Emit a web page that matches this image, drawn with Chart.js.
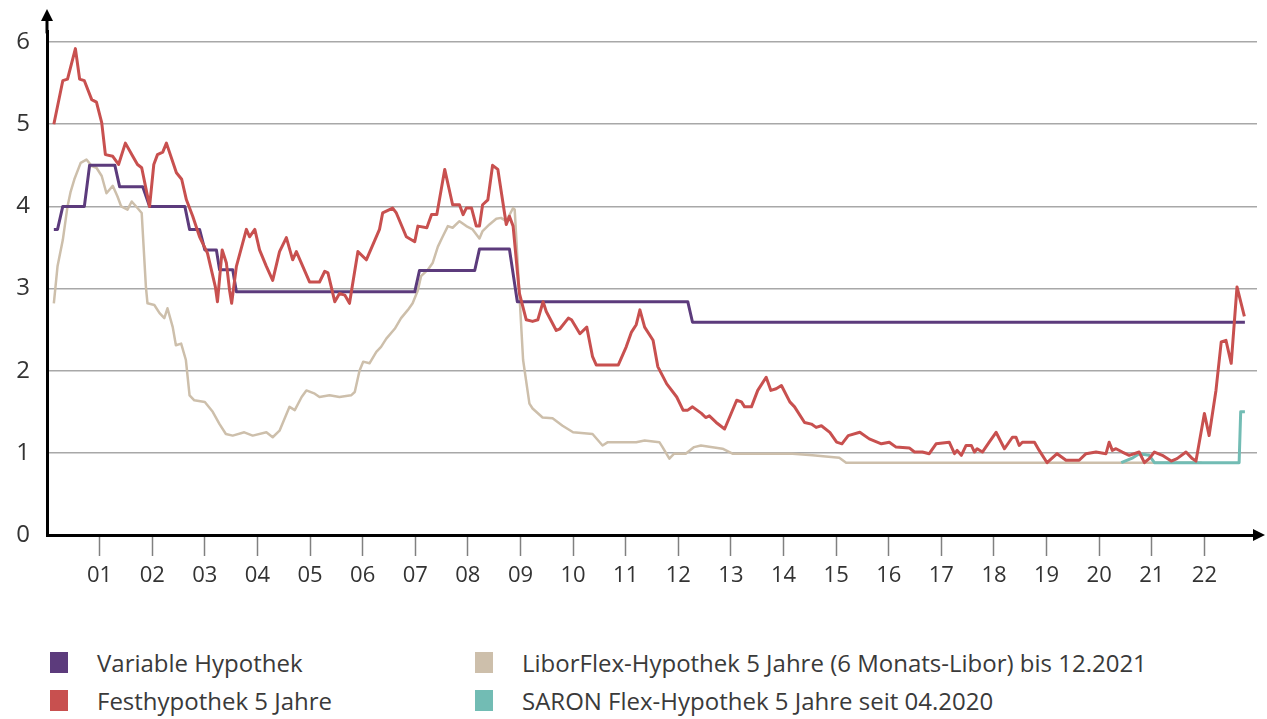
<!DOCTYPE html>
<html>
<head>
<meta charset="utf-8">
<script src="https://cdn.jsdelivr.net/npm/chart.js@4.4.0/dist/chart.umd.min.js"></script>
<style>
  body { margin: 0; background: #fff; overflow: hidden; font-family: "Open Sans", sans-serif; }
  #wrap { position: relative; width: 1267px; height: 719px; }
  #chart { position: absolute; left: 0; top: 0; }
  .lg-box { position: absolute; width: 18px; height: 21px; }
  .lg-text { position: absolute; font-size: 24px; line-height: 28px; color: #3a3a3a; white-space: nowrap; }
</style>
</head>
<body>
<div id="wrap">
  <canvas id="chart" width="1267" height="600"></canvas>
  <div id="legend"></div>
</div>
<script>
// x values are decimal years
const varDates = [2000.13, 2000.20, 2000.30, 2000.71, 2000.81, 2001.29, 2001.38, 2001.82, 2001.95,
  2002.62, 2002.71, 2002.90, 2003.00, 2003.22, 2003.28, 2003.53, 2003.60, 2006.99, 2007.08,
  2008.13, 2008.22, 2008.79, 2008.94, 2012.18, 2012.27, 2022.77];
const varValues = [3.72, 3.72, 4.0, 4.0, 4.5, 4.5, 4.24, 4.24, 4.0,
  4.0, 3.72, 3.72, 3.47, 3.47, 3.23, 3.23, 2.96, 2.96, 3.22,
  3.22, 3.48, 3.48, 2.84, 2.84, 2.59, 2.59];

const festDates = [2000.13, 2000.30, 2000.39, 2000.54, 2000.62, 2000.71, 2000.85, 2000.94, 2001.04, 2001.11,
  2001.25, 2001.36, 2001.49, 2001.63, 2001.72, 2001.80, 2001.95, 2002.03, 2002.10, 2002.20,
  2002.27, 2002.46, 2002.56, 2002.65, 2002.77, 2002.90, 2003.05, 2003.20, 2003.24, 2003.33,
  2003.41, 2003.47, 2003.51, 2003.60, 2003.79, 2003.85, 2003.95, 2004.04, 2004.17, 2004.29,
  2004.42, 2004.55, 2004.67, 2004.74, 2004.99, 2005.18, 2005.28, 2005.34, 2005.47, 2005.56,
  2005.66, 2005.75, 2005.91, 2006.07, 2006.32, 2006.38, 2006.57, 2006.64, 2006.83, 2006.99,
  2007.05, 2007.22, 2007.31, 2007.41, 2007.56, 2007.71, 2007.84, 2007.91, 2007.97, 2008.07,
  2008.16, 2008.22, 2008.28, 2008.38, 2008.47, 2008.57, 2008.73, 2008.79, 2008.86, 2008.98,
  2009.11, 2009.23, 2009.33, 2009.43, 2009.49, 2009.68, 2009.75, 2009.91, 2009.97, 2010.13,
  2010.26, 2010.37, 2010.44, 2010.86, 2011.01, 2011.11, 2011.20, 2011.27, 2011.36, 2011.52,
  2011.61, 2011.78, 2011.97, 2012.09, 2012.18, 2012.27, 2012.44, 2012.52, 2012.59, 2012.72,
  2012.88, 2013.11, 2013.20, 2013.26, 2013.39, 2013.51, 2013.67, 2013.76, 2013.86, 2013.96,
  2014.12, 2014.21, 2014.40, 2014.53, 2014.62, 2014.72, 2014.88, 2015.01, 2015.11, 2015.23,
  2015.45, 2015.63, 2015.86, 2016.01, 2016.14, 2016.39, 2016.49, 2016.64, 2016.77, 2016.90,
  2017.15, 2017.25, 2017.30, 2017.38, 2017.47, 2017.57, 2017.63, 2017.68, 2017.78, 2017.91,
  2018.04, 2018.20, 2018.35, 2018.42, 2018.48, 2018.54, 2018.77, 2018.86, 2019.01, 2019.20,
  2019.37, 2019.62, 2019.75, 2019.94, 2020.13, 2020.19, 2020.25, 2020.32, 2020.44, 2020.57,
  2020.76, 2020.86, 2020.95, 2021.05, 2021.20, 2021.37, 2021.48, 2021.65, 2021.77, 2021.84,
  2022.00, 2022.09, 2022.22, 2022.32, 2022.41, 2022.51, 2022.62, 2022.76];
const festValues = [5.00, 5.53, 5.55, 5.92, 5.55, 5.53, 5.30, 5.27, 5.02, 4.63,
  4.61, 4.51, 4.77, 4.61, 4.51, 4.47, 4.00, 4.51, 4.63, 4.66,
  4.77, 4.41, 4.33, 4.08, 3.88, 3.63, 3.43, 3.02, 2.84, 3.47,
  3.31, 2.98, 2.82, 3.27, 3.72, 3.63, 3.72, 3.47, 3.27, 3.10,
  3.45, 3.62, 3.35, 3.45, 3.08, 3.08, 3.21, 3.19, 2.84, 2.94,
  2.92, 2.82, 3.45, 3.35, 3.72, 3.92, 3.98, 3.92, 3.63, 3.57,
  3.76, 3.74, 3.90, 3.90, 4.45, 4.02, 4.02, 3.90, 3.98, 3.98,
  3.76, 3.76, 4.02, 4.08, 4.50, 4.45, 3.78, 3.88, 3.76, 2.94,
  2.62, 2.60, 2.62, 2.84, 2.72, 2.49, 2.51, 2.64, 2.62, 2.45,
  2.53, 2.17, 2.07, 2.07, 2.29, 2.47, 2.56, 2.74, 2.53, 2.37,
  2.05, 1.84, 1.68, 1.52, 1.52, 1.56, 1.48, 1.43, 1.45, 1.37,
  1.29, 1.64, 1.62, 1.56, 1.56, 1.76, 1.92, 1.76, 1.78, 1.82,
  1.62, 1.56, 1.37, 1.35, 1.31, 1.33, 1.25, 1.13, 1.11, 1.21,
  1.25, 1.17, 1.11, 1.13, 1.07, 1.06, 1.01, 1.01, 0.99, 1.11,
  1.13, 0.99, 1.03, 0.97, 1.09, 1.09, 1.01, 1.05, 1.01, 1.13,
  1.25, 1.05, 1.19, 1.19, 1.09, 1.13, 1.13, 1.03, 0.88, 0.99,
  0.91, 0.91, 0.99, 1.01, 0.99, 1.13, 1.03, 1.05, 1.01, 0.97,
  1.01, 0.88, 0.93, 1.01, 0.97, 0.90, 0.93, 1.01, 0.93, 0.90,
  1.48, 1.21, 1.76, 2.35, 2.37, 2.09, 3.02, 2.66];

const liborDates = [2000.13, 2000.20, 2000.30, 2000.39, 2000.45, 2000.52, 2000.64, 2000.75, 2000.85, 2000.94,
  2001.04, 2001.13, 2001.25, 2001.34, 2001.41, 2001.53, 2001.61, 2001.72, 2001.80, 2001.88,
  2001.91, 2002.04, 2002.14, 2002.23, 2002.29, 2002.39, 2002.45, 2002.55, 2002.64, 2002.71,
  2002.80, 2003.00, 2003.15, 2003.28, 2003.40, 2003.53, 2003.75, 2003.91, 2004.17, 2004.29,
  2004.42, 2004.61, 2004.71, 2004.84, 2004.93, 2005.09, 2005.18, 2005.37, 2005.56, 2005.78,
  2005.85, 2005.94, 2006.01, 2006.13, 2006.26, 2006.35, 2006.45, 2006.61, 2006.73, 2006.86,
  2006.95, 2007.05, 2007.11, 2007.24, 2007.33, 2007.43, 2007.52, 2007.62, 2007.71, 2007.84,
  2007.97, 2008.09, 2008.22, 2008.28, 2008.41, 2008.54, 2008.63, 2008.73, 2008.86, 2008.89,
  2009.05, 2009.17, 2009.23, 2009.42, 2009.61, 2009.80, 2010.00, 2010.37, 2010.56, 2010.66,
  2011.20, 2011.36, 2011.64, 2011.70, 2011.83, 2011.92, 2012.14, 2012.30, 2012.43, 2012.84,
  2013.03, 2014.17, 2014.55, 2015.06, 2015.19, 2021.95];
const liborValues = [2.82, 3.27, 3.59, 4.00, 4.18, 4.33, 4.53, 4.57, 4.49, 4.47,
  4.37, 4.16, 4.25, 4.12, 4.00, 3.96, 4.06, 3.98, 3.92, 3.02,
  2.82, 2.80, 2.70, 2.64, 2.76, 2.53, 2.31, 2.33, 2.13, 1.70,
  1.64, 1.62, 1.50, 1.35, 1.23, 1.21, 1.25, 1.21, 1.25, 1.19,
  1.27, 1.56, 1.52, 1.68, 1.76, 1.72, 1.68, 1.70, 1.68, 1.70,
  1.74, 2.00, 2.11, 2.09, 2.23, 2.29, 2.39, 2.51, 2.64, 2.74,
  2.82, 2.98, 3.15, 3.23, 3.31, 3.51, 3.63, 3.76, 3.74, 3.82,
  3.76, 3.72, 3.61, 3.70, 3.78, 3.85, 3.86, 3.82, 3.98, 3.96,
  2.13, 1.60, 1.54, 1.43, 1.42, 1.33, 1.25, 1.23, 1.09, 1.13,
  1.13, 1.15, 1.13, 1.07, 0.93, 0.99, 0.99, 1.07, 1.09, 1.05,
  0.99, 0.99, 0.97, 0.94, 0.88, 0.88];

const saronDates = [2020.42, 2020.64, 2020.76, 2020.95, 2021.05, 2022.66, 2022.69, 2022.77];
const saronValues = [0.88, 0.94, 0.99, 0.97, 0.88, 0.88, 1.50, 1.50];

const xTickLabels = ['01', '02', '03', '04', '05', '06', '07', '08', '09', '10', '11',
  '12', '13', '14', '15', '16', '17', '18', '19', '20', '21', '22'];
const yTickValues = [0, 1, 2, 3, 4, 5, 6];

const seriesLabels = ['Variable Hypothek', 'Festhypothek 5 Jahre',
  'LiborFlex-Hypothek 5 Jahre (6 Monats-Libor) bis 12.2021', 'SARON Flex-Hypothek 5 Jahre seit 04.2020'];
const seriesColors = ['#5c3b7c', '#c8504f', '#cdbfab', '#72bcb4'];

function points(dates, values) {
  return dates.map((d, i) => ({ x: d, y: values[i] }));
}

// axis arrows
const arrowPlugin = {
  id: 'arrows',
  afterDraw(chart) {
    const ctx = chart.ctx;
    const a = chart.chartArea;
    ctx.save();
    ctx.strokeStyle = '#000';
    ctx.fillStyle = '#000';
    ctx.lineWidth = 3;
    ctx.beginPath();
    ctx.moveTo(a.left, a.top + 2);
    ctx.lineTo(a.left, 20);
    ctx.stroke();
    ctx.beginPath();
    ctx.moveTo(a.left, 9);
    ctx.lineTo(a.left - 6, 21);
    ctx.lineTo(a.left + 6, 21);
    ctx.closePath();
    ctx.fill();
    ctx.beginPath();
    ctx.moveTo(a.right - 2, a.bottom);
    ctx.lineTo(1254, a.bottom);
    ctx.stroke();
    ctx.beginPath();
    ctx.moveTo(1265, a.bottom);
    ctx.lineTo(1253, a.bottom - 6);
    ctx.lineTo(1253, a.bottom + 6);
    ctx.closePath();
    ctx.fill();
    ctx.restore();
  }
};

const ds = [
  { i: 1, data: points(festDates, festValues), width: 3 },
  { i: 0, data: points(varDates, varValues), width: 3 },
  { i: 3, data: points(saronDates, saronValues), width: 3 },
  { i: 2, data: points(liborDates, liborValues), width: 2.5 }
].map(s => ({
  label: seriesLabels[s.i],
  data: s.data,
  borderColor: seriesColors[s.i],
  backgroundColor: seriesColors[s.i],
  borderWidth: s.width,
  pointRadius: 0,
  tension: 0,
  borderJoinStyle: 'round',
  fill: false
}));

new Chart(document.getElementById('chart').getContext('2d'), {
  type: 'line',
  data: { datasets: ds },
  options: {
    responsive: false,
    animation: false,
    layout: { padding: { top: 5, right: 10, left: 0, bottom: 0 } },
    plugins: { legend: { display: false }, tooltip: { enabled: false } },
    scales: {
      x: {
        type: 'linear',
        min: 2000,
        max: 2023,
        afterFit: s => { s.height = 65; },
        grid: {
          drawOnChartArea: false,
          drawTicks: true,
          tickLength: 21,
          tickWidth: 1.5,
          tickColor: c => (c.tick && c.tick.value > 2000 && c.tick.value < 2023) ? '#808080' : 'rgba(0,0,0,0)'
        },
        border: { color: '#000', width: 3 },
        ticks: {
          stepSize: 1,
          autoSkip: false,
          maxRotation: 0,
          padding: 7,
          color: '#333',
          font: { family: 'Open Sans', size: 22 },
          callback: v => xTickLabels[v - 2001] || ''
        }
      },
      y: {
        min: 0,
        max: 6.13,
        afterFit: s => { s.width = 47; },
        afterBuildTicks: s => { s.ticks = yTickValues.map(v => ({ value: v })); },
        grid: { color: '#a8a8a8', lineWidth: 1.5, drawTicks: false },
        border: { color: '#000', width: 3 },
        ticks: {
          padding: 17,
          color: '#333',
          font: { family: 'Open Sans', size: 24 },
          callback: v => String(v)
        }
      }
    }
  },
  plugins: [arrowPlugin]
});

// legend in two columns
const legendPos = [
  { i: 0, left: 50, top: 652 },
  { i: 1, left: 50, top: 690 },
  { i: 2, left: 475, top: 652 },
  { i: 3, left: 475, top: 690 }
];
const legend = document.getElementById('legend');
legendPos.forEach(p => {
  const box = document.createElement('div');
  box.className = 'lg-box';
  box.style.left = p.left + 'px';
  box.style.top = p.top + 'px';
  box.style.background = seriesColors[p.i];
  legend.appendChild(box);
  const t = document.createElement('div');
  t.className = 'lg-text';
  t.style.left = (p.left + 47) + 'px';
  t.style.top = (p.top - 3) + 'px';
  t.textContent = seriesLabels[p.i];
  legend.appendChild(t);
});
</script>
</body>
</html>
